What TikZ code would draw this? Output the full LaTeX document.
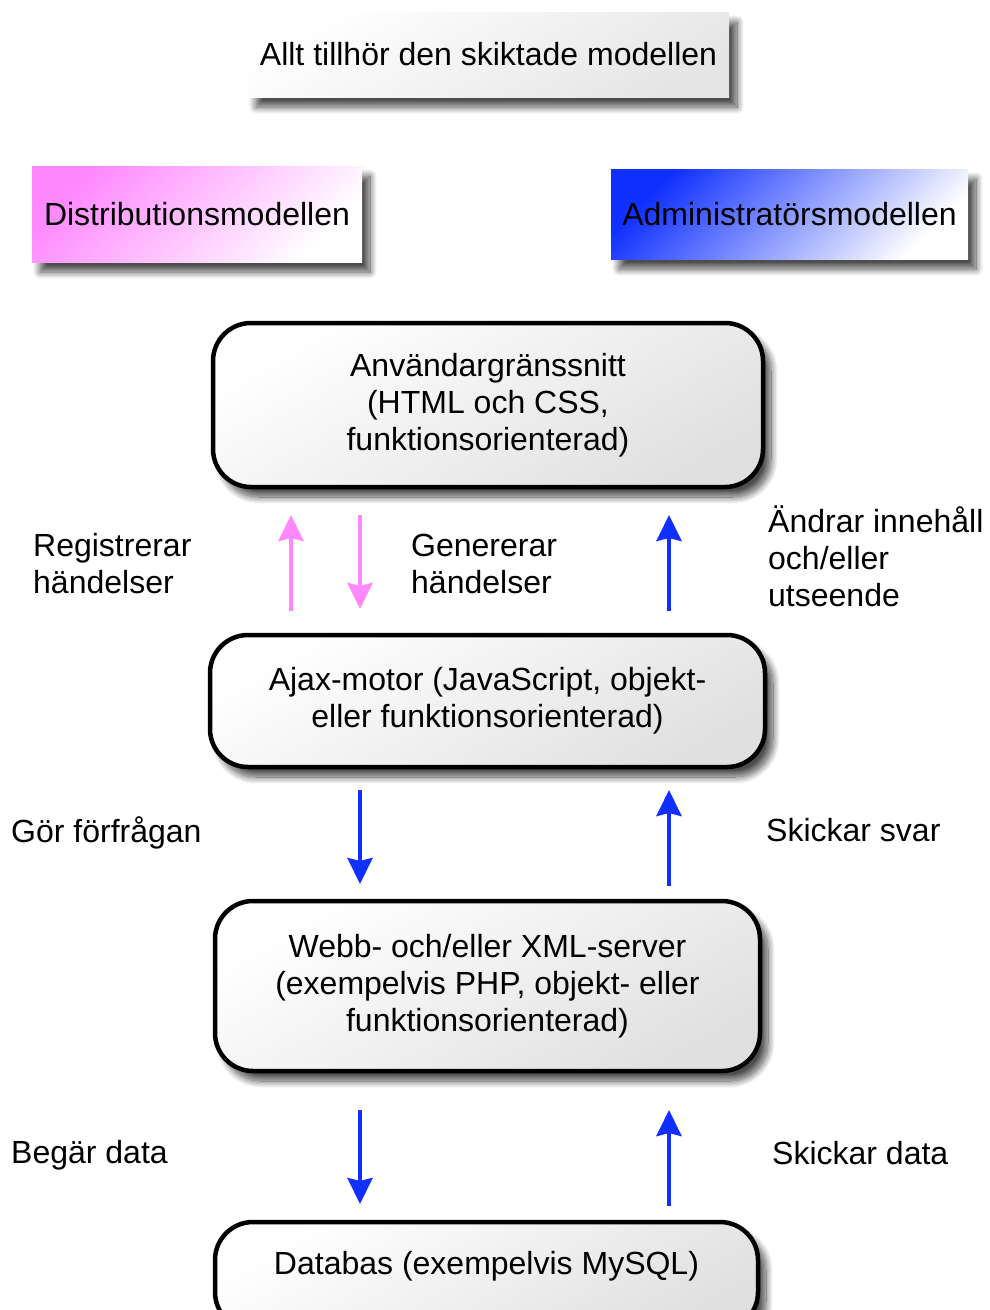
\documentclass[tikz,border=0pt]{standalone}
\usepackage{fontspec}
\setmainfont{Liberation Sans}
\usetikzlibrary{shadows.blur,arrows.meta}
\definecolor{pinkc}{HTML}{FF88FF}
\definecolor{bluec}{HTML}{1030FF}
\tikzset{
  txt/.style={font=\fontsize{32pt}{37pt}\selectfont, inner sep=0pt},
  shade/.style={blur shadow={shadow xshift=8pt, shadow yshift=-10pt, shadow blur radius=7pt, shadow blur steps=16, shadow opacity=70}},
  headbox/.style={shade, rectangle, inner sep=0pt, txt},
  layer/.style={shade, rectangle, rounded corners=38pt, draw=black, line width=4.5pt,
    top color=white, bottom color=black!12, shading angle=30, txt, align=center, inner sep=0pt},
  flow/.style={line width=4.5pt, -{Stealth[inset=3pt,length=26pt,width=25pt]}},
  lbl/.style={txt, align=left, anchor=west},
}
\begin{document}
\begin{tikzpicture}[x=1pt,y=-1pt]
\useasboundingbox (0,0) rectangle (989,1310);
\clip (0,0) rectangle (989,1310);

% model headings
\node[headbox, minimum width=481pt, minimum height=85pt, top color=white, bottom color=black!10, shading angle=30]
  (all) at (488.5,54.5) {Allt tillhör den skiktade modellen};
\node[headbox, minimum width=330pt, minimum height=96pt, top color=pinkc, bottom color=white, shading angle=45]
  (dist) at (197,214) {Distributionsmodellen};
\node[headbox, minimum width=357pt, minimum height=90pt, top color=bluec, bottom color=white, shading angle=45]
  (admin) at (789.5,214) {Administratörsmodellen};

% layers
\node[layer, minimum width=550pt, minimum height=164pt] (ui) at (488,405)
  {Användargränssnitt\\(HTML och CSS,\\funktionsorienterad)};
\node[layer, minimum width=555pt, minimum height=132pt] (ajax) at (487.5,701)
  {Ajax-motor (JavaScript, objekt-\\eller funktionsorienterad)};
\node[layer, minimum width=545pt, minimum height=170pt] (srv) at (487.5,986)
  {Webb- och/eller XML-server\\(exempelvis PHP, objekt- eller\\funktionsorienterad)};
\node[layer, minimum width=543pt, minimum height=108pt] (db) at (486.5,1276) {};
\node[txt] (dbt) at (486.5,1266) {Databas (exempelvis MySQL)};

% arrow end points
\coordinate (a1) at (291,611); \coordinate (a1e) at (291,515);
\coordinate (a2) at (360,515); \coordinate (a2e) at (360,609);
\coordinate (a3) at (669,611); \coordinate (a3e) at (669,515);
\coordinate (b1) at (360,790); \coordinate (b1e) at (360,884);
\coordinate (b2) at (669,886); \coordinate (b2e) at (669,790);
\coordinate (c1) at (360,1110); \coordinate (c1e) at (360,1204);
\coordinate (c2) at (669,1206); \coordinate (c2e) at (669,1110);

\draw[flow, pinkc] (a1) -- (a1e);
\draw[flow, pinkc] (a2) -- (a2e);
\draw[flow, bluec] (a3) -- (a3e);
\draw[flow, bluec] (b1) -- (b1e);
\draw[flow, bluec] (b2) -- (b2e);
\draw[flow, bluec] (c1) -- (c1e);
\draw[flow, bluec] (c2) -- (c2e);

% labels
\node[lbl] (l1) at (33,563.5) {Registrerar\\händelser};
\node[lbl] (l2) at (411,563.5) {Genererar\\händelser};
\node[lbl] (l3) at (768,556) {Ändrar innehåll\\och/eller\\utseende};
\node[lbl] (l4) at (11,833) {Gör förfrågan};
\node[lbl] (l5) at (766,830) {Skickar svar};
\node[lbl] (l6) at (11,1155) {Begär data};
\node[lbl] (l7) at (772,1153) {Skickar data};
\end{tikzpicture}
\end{document}
